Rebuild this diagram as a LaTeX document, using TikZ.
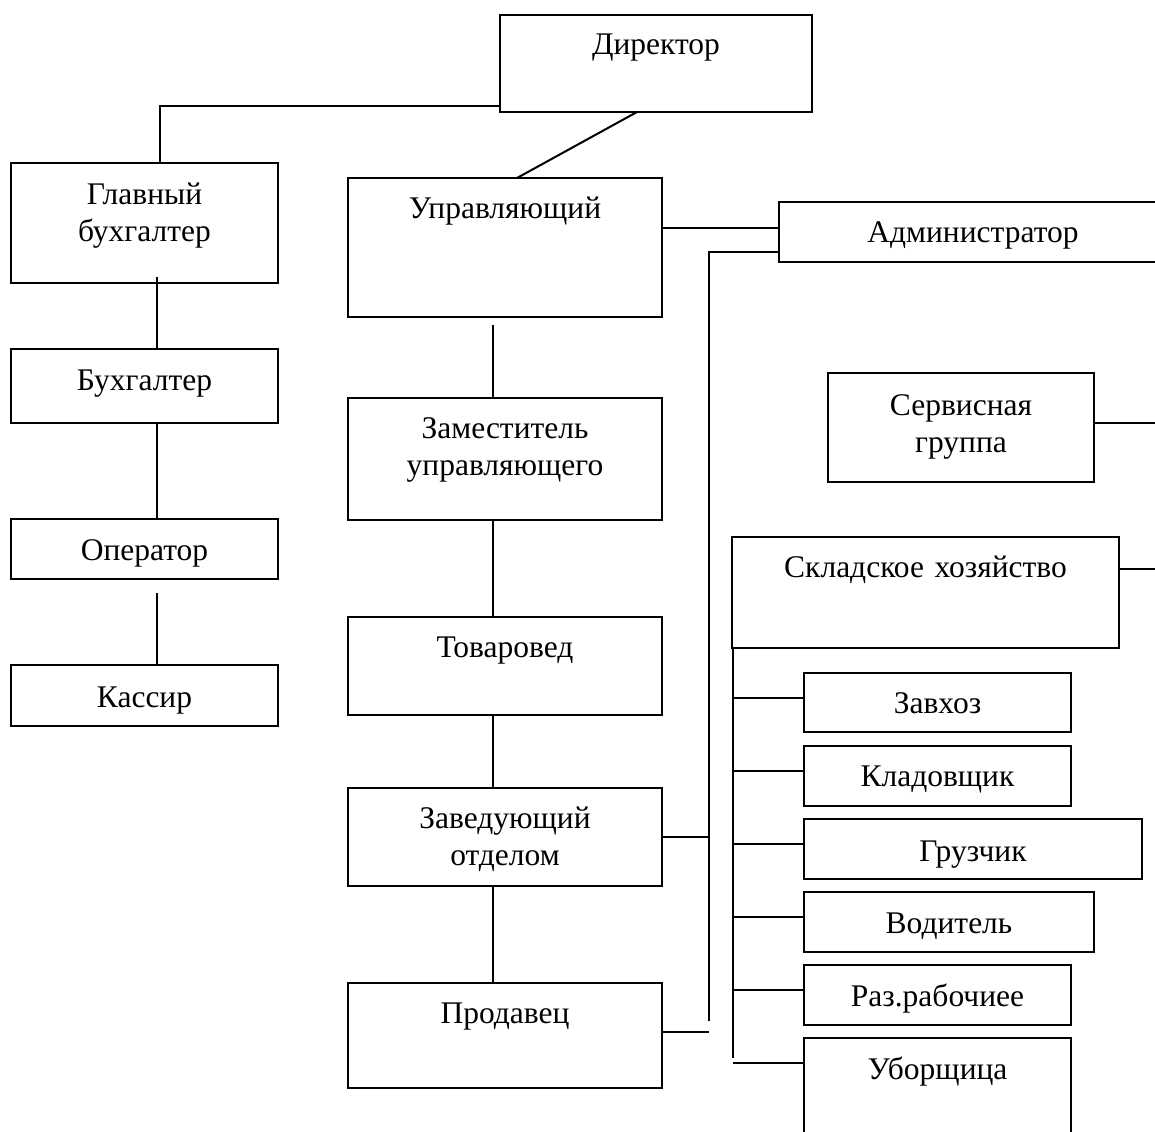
\documentclass[tikz,border=0pt]{standalone}
\usepackage{fontspec}
\setmainfont{Liberation Serif}
\usetikzlibrary{calc}
\tikzset{
  obx/.style={draw, line width=2pt, inner sep=0pt, outer sep=0pt, align=center,
    anchor=north west, font=\fontsize{31.5}{37}\selectfont},
  lnk/.style={line width=2pt}
}
% name, x1, y1, x2, y2, first baseline, text
\newcommand\orgbox[7]{%
  \pgfmathsetmacro\orgbw{#4-#2}%
  \pgfmathsetmacro\orgbh{#6-#3}%
  \pgfmathsetmacro\orgbd{#5-#6}%
  \node[obx, text width=\orgbw pt, text height=\orgbh pt, text depth=\orgbd pt] (#1) at (#2,#3) {#7};}
\begin{document}
\begin{tikzpicture}[x=1pt, y=-1pt]
\useasboundingbox (0,0) rectangle (1155,1131);
\fill[white] (0,0) rectangle (1155,1131);
\clip (0,0) rectangle (1155,1131);

% boxes
\orgbox{dir}{500}{15}{812}{112}{55}{Директор}
\orgbox{glav}{11}{163}{278}{283}{205}{Главный\\бухгалтер}
\orgbox{buh}{11}{349}{278}{423}{390}{Бухгалтер}
\orgbox{oper}{11}{519}{278}{579}{560}{Оператор}
\orgbox{kass}{11}{665}{278}{726}{707}{Кассир}
\orgbox{upr}{348}{178}{662}{317}{219}{Управляющий}
\orgbox{zam}{348}{398}{662}{520}{438}{Заместитель\\управляющего}
\orgbox{tov}{348}{617}{662}{715}{657}{Товаровед}
\orgbox{zav}{348}{788}{662}{886}{828}{Заведующий\\отделом}
\orgbox{prod}{348}{983}{662}{1088}{1023}{Продавец}
\orgbox{admin}{779}{202}{1167}{262}{243}{Администратор}
\orgbox{serv}{828}{373}{1094}{482}{415}{Сервисная\\группа}
\orgbox{sklad}{732}{537}{1119}{648}{577}{Складское хозяйство}
\orgbox{zavhoz}{804}{673}{1071}{732}{713}{Завхоз}
\orgbox{klad}{804}{746}{1071}{806}{786}{Кладовщик}
\orgbox{gruz}{804}{819}{1142}{879}{861}{Грузчик}
\orgbox{vod}{804}{892}{1094}{952}{933}{Водитель}
\orgbox{raz}{804}{965}{1071}{1025}{1006}{Раз.рабочиее}
\orgbox{ubor}{804}{1038}{1071}{1145}{1079}{Уборщица}

% connectors, left branch
\draw[lnk] ($(dir.south west)+(0,-6)$) -| ($(glav.north west)+(149,0)$);
\draw[lnk] ($(dir.south west)+(137,0)$) -- ($(upr.north west)+(169,0)$);
\draw[lnk] ($(glav.south west)+(146,-6)$) -- ($(buh.north west)+(146,0)$);
\draw[lnk] ($(buh.south west)+(146,0)$) -- ($(oper.north west)+(146,0)$);
\draw[lnk] ($(oper.south west)+(146,14)$) -- ($(kass.north west)+(146,0)$);

% middle column
\draw[lnk] ($(upr.south west)+(145,8)$) -- ($(zam.north west)+(145,0)$);
\draw[lnk] ($(zam.south west)+(145,0)$) -- ($(tov.north west)+(145,0)$);
\draw[lnk] ($(tov.south west)+(145,0)$) -- ($(zav.north west)+(145,0)$);
\draw[lnk] ($(zav.south west)+(145,0)$) -- ($(prod.north west)+(145,0)$);

% administrator and bus
\coordinate (busend) at (709,1021);
\draw[lnk] ($(upr.north east)+(0,50)$) -- ($(admin.north west)+(0,26)$);
\draw[lnk] ($(admin.south west)+(0,-10)$) -| (busend);
\draw[lnk] ($(zav.north east)+(0,49)$) -- +(47,0);
\draw[lnk] ($(prod.north east)+(0,49)$) -- +(47,0);

% right side
\draw[lnk] ($(serv.north east)+(0,50)$) -- +(61,0);
\draw[lnk] ($(sklad.north east)+(0,32)$) -- +(36,0);
\draw[lnk] ($(sklad.south west)+(1,0)$) -- +(0,410);
\foreach \b in {zavhoz,klad,gruz,vod,raz,ubor}
  \draw[lnk] ($(\b.north west)+(0,25)$) -- +(-71,0);
\end{tikzpicture}
\end{document}
